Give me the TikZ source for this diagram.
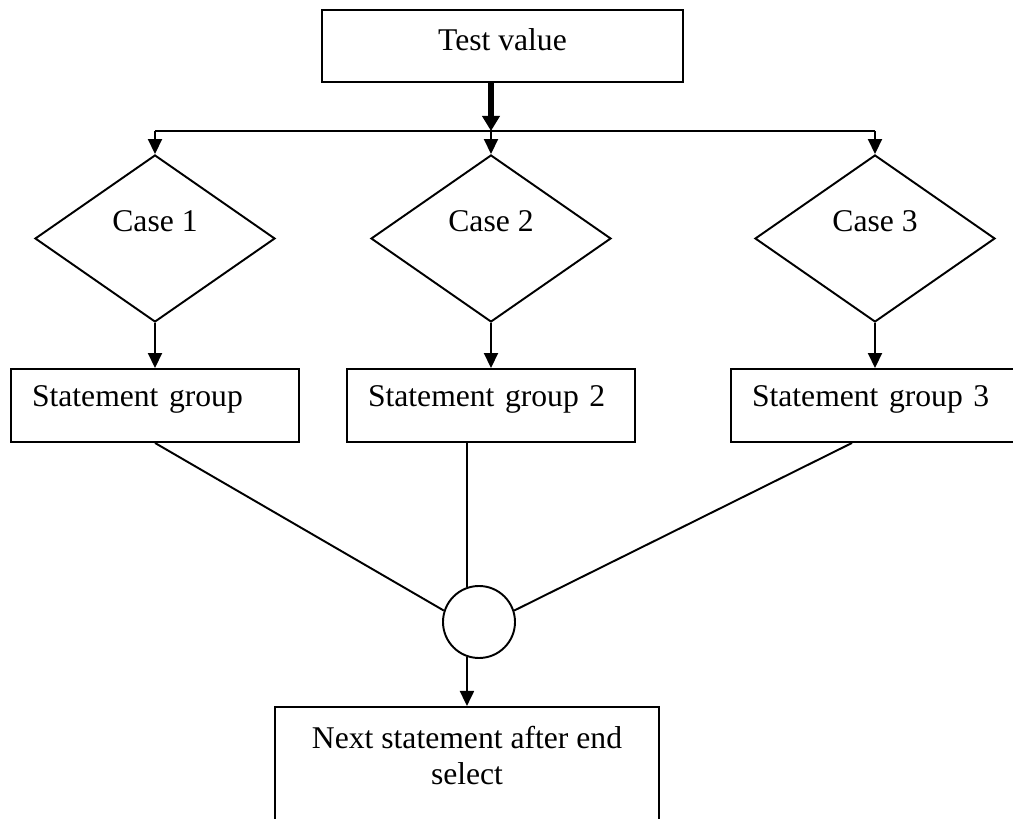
\documentclass[tikz,border=0pt]{standalone}
\usepackage{fontspec}
\setmainfont{Liberation Serif}
\usetikzlibrary{shapes.geometric,arrows.meta}

\begin{document}
\begin{tikzpicture}[
        font=\fontsize{18}{20.5}\selectfont,
        line width=1.1pt,
        stbox/.style={draw,minimum width=5.76cm,minimum height=1.46cm,inner xsep=0.42cm,text width=4.92cm,align=left,text depth=0.37cm},
        casebox/.style={draw,diamond,minimum width=4.8cm,minimum height=3.34cm,inner sep=0pt},
        arr/.style={-{Triangle[length=0.3cm,width=0.28cm]}},
        thickarr/.style={line width=3.5pt,-{Triangle[length=0.3cm,width=0.34cm]}}]
        \useasboundingbox (0,0) rectangle (20.26,-16.38);
        \clip (0,0) rectangle (20.26,-16.38);
        % test value and the three cases
        \node[draw,minimum width=7.22cm,minimum height=1.44cm,text depth=0.27cm](tv) at (10.05,-0.92){Test value};
        \coordinate (bus) at (9.82,-2.62);
        \node[casebox,label={[name=c1,yshift=0.34cm]center:Case 1}](d1) at (3.1,-4.77){};
        \node[casebox,label={[name=c2,yshift=0.34cm]center:Case 2}](d2) at (9.82,-4.77){};
        \node[casebox,label={[name=c3,yshift=0.34cm]center:Case 3}](d3) at (17.5,-4.77){};
        \node[stbox](s1) at (3.1,-8.11){Statement group};
        \node[stbox](s2) at (9.82,-8.11){Statement group 2};
        \node[stbox](s3) at (17.5,-8.11){Statement group 3};
        \node[draw,circle,minimum size=1.44cm,inner sep=0pt](j) at (9.58,-12.44){};
        \node[draw,minimum width=7.68cm,minimum height=3cm,anchor=north,
            label={[name=nt,anchor=north,align=center,inner sep=0pt,yshift=-0.39cm]north:Next statement after end\\select}](nx) at (9.34,-14.12){};
        % connectors
        \draw[thickarr](tv.south -| bus)--(bus);
        \draw(bus -| d1)--(bus -| d3);
        \draw[arr](bus -| d1)--(d1.north);
        \draw[arr](bus -| d2)--(d2.north);
        \draw[arr](bus -| d3)--(d3.north);
        \draw[arr](d1.south)--(s1.north);
        \draw[arr](d2.south)--(s2.north);
        \draw[arr](d3.south)--(s3.north);
        \draw(s1.south)--(j.162);
        \draw(s2.south -| j.109)--(j.109);
        \draw([xshift=-0.46cm]s3.south)--(j.18);
        \draw[arr](j.251)--(j.251 |- nx.north);
    \end{tikzpicture}
\end{document}
